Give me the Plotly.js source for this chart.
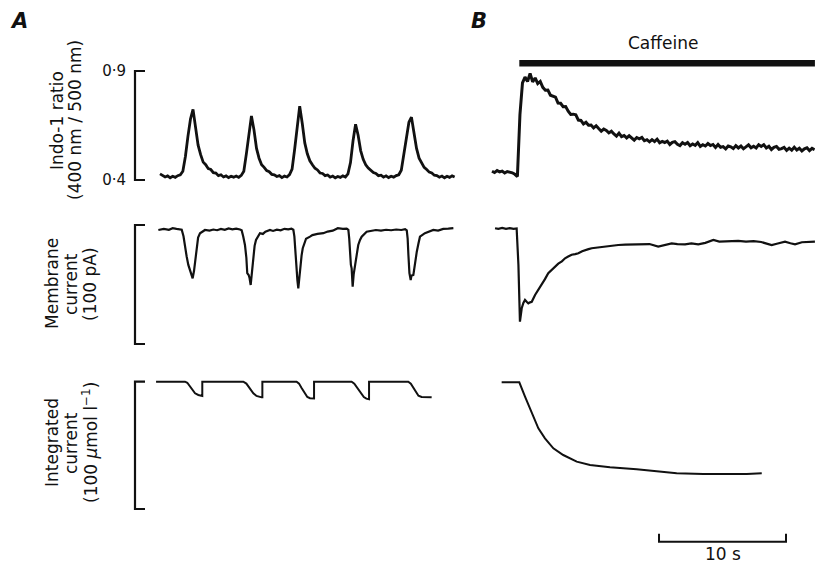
<!DOCTYPE html>
<html>
<head>
<meta charset="utf-8">
<script src="https://cdn.plot.ly/plotly-3.0.1.min.js"></script>
<style>html,body{margin:0;padding:0;background:#fff;}#chart{width:815px;height:564px;}</style>
</head>
<body>
<div id="chart"></div>
<script>
// ---------------- DATA ----------------
// Panel A, Indo-1 ratio, sampled every 0.2 s from t = 0 s
const ratioStep = 0.2;
const ratioA = [
0.428,0.420,0.414,0.419,0.410,0.417,0.412,0.420,0.424,0.440,
0.508,0.600,0.680,0.724,0.640,0.560,0.516,0.482,0.470,0.452,
0.448,0.434,0.432,0.420,0.424,0.414,0.419,0.411,0.417,0.413,
0.418,0.412,0.421,0.440,0.520,0.610,0.694,0.630,0.545,0.500,
0.470,0.458,0.443,0.438,0.426,0.424,0.416,0.420,0.411,0.418,
0.414,0.425,0.450,0.540,0.650,0.739,0.660,0.570,0.520,0.488,
0.470,0.454,0.446,0.432,0.430,0.420,0.423,0.413,0.418,0.410,
0.416,0.412,0.419,0.414,0.428,0.480,0.580,0.656,0.605,0.535,
0.495,0.470,0.455,0.446,0.434,0.430,0.420,0.422,0.413,0.419,
0.411,0.417,0.413,0.420,0.424,0.445,0.520,0.610,0.665,0.688,
0.620,0.545,0.500,0.475,0.458,0.448,0.436,0.432,0.422,0.420,
0.413,0.418,0.410,0.417,0.412,0.419,0.414
];
// Panel B, Indo-1 ratio, sampled every 0.2 s from t = 0 s
const ratioB = [
0.440,0.434,0.443,0.437,0.441,0.432,0.439,0.436,0.433,0.426,
0.416,0.700,0.845,0.872,0.852,0.889,0.850,0.868,0.842,0.852,
0.825,0.812,0.813,0.789,0.784,0.780,0.753,0.752,0.736,0.737,
0.716,0.701,0.702,0.699,0.675,0.673,0.657,0.665,0.651,0.652,
0.639,0.649,0.636,0.624,0.634,0.627,0.616,0.624,0.611,0.601,
0.615,0.599,0.604,0.593,0.603,0.594,0.583,0.595,0.589,0.595,
0.580,0.585,0.575,0.585,0.576,0.587,0.571,0.577,0.572,0.578,
0.563,0.573,0.576,0.564,0.558,0.571,0.564,0.572,0.557,0.565,
0.559,0.571,0.554,0.562,0.556,0.567,0.558,0.563,0.549,0.563,
0.550,0.553,0.543,0.556,0.552,0.544,0.558,0.547,0.556,0.543,
0.554,0.561,0.548,0.555,0.547,0.562,0.554,0.562,0.547,0.555,
0.540,0.550,0.554,0.541,0.544,0.550,0.536,0.546,0.537,0.550,
0.538,0.546,0.533,0.543,0.548,0.535,0.545,0.539
];
const ratioScale = [0.4, 0.9];           // ends of the ratio bracket
const ratioTickText = ['0·4', '0·9'];

// Panel A, membrane current (pA) vs time (s)
const currentATime = [
-0.13,0.3,0.7,1.0,1.3,1.6,
1.71,1.85,1.97,2.1,2.23,2.4,2.57,2.68,2.76,2.83,2.89,3.0,3.15,3.35,3.54,
3.9,4.2,4.5,4.8,5.1,5.4,5.7,6.0,6.3,
6.43,6.55,6.69,6.8,6.87,6.98,7.05,7.14,7.22,7.35,7.45,7.56,7.7,7.87,8.1,8.3,8.66,
8.9,9.2,9.5,9.8,10.1,10.35,
10.5,10.58,10.63,10.72,10.76,10.82,10.89,10.97,11.08,11.15,11.24,11.4,11.5,11.81,12.0,12.4,12.86,
13.2,13.6,14.0,14.4,14.7,
14.83,14.9,14.96,15.03,15.09,15.17,15.25,15.35,15.5,15.61,15.75,15.88,16.27,
16.6,17.0,17.4,17.8,18.2,18.6,19.0,19.3,
19.43,19.5,19.56,19.64,19.74,19.8,19.95,20.05,20.22,20.35,20.47,20.86,21.2,21.52,
21.9,22.3,22.7,23.1
];
const currentA = [
-0.7,0.3,-0.5,0.8,0.2,0.0,
-0.5,-6,-16,-23,-30,-36,-41.3,-35,-27,-20,-13,-7,-3.5,-2,-0.7,
-1.2,-0.3,-0.9,0.2,-0.6,0.6,-0.2,0.4,-0.3,
-1,-6,-13.3,-24,-37,-38.5,-41,-46.9,-38,-21.7,-14,-9.1,-6.3,-3.4,-4,-2.1,-0.7,
-1.5,-0.4,-1,0.3,-0.2,0.5,
-0.5,-6,-16,-30,-38.5,-43,-49.7,-40,-30,-22,-16,-10.5,-8,-6.3,-5,-4,-3.4,
-2,-1.3,0.8,0.2,0.5,
-0.5,-8,-21.7,-30,-32.9,-48.3,-38,-30,-21.7,-13.3,-9,-6.3,-2.1,
-1.5,-0.7,-1.2,-0.5,-0.9,-0.3,-0.7,0,
-1,-8,-21.7,-37,-42.7,-39,-38.5,-30,-18.9,-12,-6.3,-3.4,-2,-0.7,
-1.2,0.2,0.4,0.8
];
// Panel B, membrane current (pA) vs time (s)
const currentBTime = [
0.24,0.5,0.8,1.1,1.4,1.7,1.94,2.08,2.2,2.34,2.47,2.6,2.73,2.86,3.0,3.13,3.39,3.65,3.91,
4.17,4.43,4.7,4.96,5.22,5.5,5.75,6.0,6.27,6.55,6.8,7.1,7.32,7.6,7.85,8.2,8.5,8.9,9.4,9.94,
10.5,11.26,11.8,12.4,13.09,13.5,14.15,14.6,15.2,15.7,16.24,16.8,17.43,17.9,18.5,19.39,
20.0,20.6,21.2,22.02,22.5,23.07,23.5,23.86,24.4,25.0,25.43
];
const currentB = [
0.8,0.2,1.0,0.3,0.9,0.2,0.6,-30,-77.7,-66.5,-62,-59.5,-61,-62.3,-61.5,-61,-55.3,-51,-46.9,
-42,-37,-34,-31.5,-29,-27,-24.5,-23,-21.5,-21,-20.3,-18.5,-17.5,-16.8,-16,-15.5,-15.2,-14.7,-14,-13.3,
-13,-12.7,-13,-12.5,-14.7,-13.5,-11.9,-12.5,-12.8,-12,-12.7,-11.5,-9.1,-10.5,-10.2,-9.9,
-10.5,-10,-10.8,-13.3,-12,-10.5,-11.8,-12.7,-11,-10.5,-10.5
];
const currentScale = [-96.5, 3.5];       // ends of the 100 pA bracket

// Panel A, integrated current (µmol/l) vs time (s), with the resets
const integralATime = [
-0.31,1.97,2.15,2.36,2.55,2.76,3.02,3.28,3.33,3.33,
6.56,6.8,7.05,7.35,7.6,7.8,8.0,8.06,8.06,
10.76,10.95,11.15,11.4,11.6,11.81,12.13,12.13,
15.09,15.3,15.55,15.8,16.05,16.25,16.4,16.46,16.46,
19.55,19.75,19.95,20.15,20.35,20.6,21.0,21.39
];
const integralA = [
0,0,-0.8,-3.9,-6.8,-9.1,-10.4,-11.2,-11.2,0,
0,-1.5,-5,-9.1,-11.2,-12,-12.3,-12.3,0,
0,-1.5,-5,-9.5,-12,-13,-13.2,0,
0,-1.5,-5,-9,-12,-13.3,-13.8,-13.8,0,
0,-1.5,-5,-8.5,-11,-12,-12.2,-12.3
];
// Panel B, integrated current
const integralBTime = [0.76,2.15,2.6,3.13,3.65,4.17,4.83,5.61,6.67,7.72,9.29,11.39,12.97,14.54,16.64,18.74,20.06,21.24];
const integralB = [-0.5,-0.5,-11.8,-24.8,-36.6,-44.5,-52.3,-57.6,-62.8,-65.4,-67.2,-68.8,-70.7,-72,-72.5,-72.7,-72.5,-72];
const integralScale = [-100, 0];          // ends of the 100 µmol/l bracket

// Caffeine application (s, panel B time) and time scale bar
const caffeineOn = 2.15, caffeineOff = 25.43;
const scaleBarStart = 13.15, scaleBarLength = 10;

// ---------------- LAYOUT GEOMETRY ----------------
const W = 815, H = 564, PX_PER_S = 12.7;
const A_T0_PX = 160, B_T0_PX = 492;
const xARange = [-0.5, 23.7], xBRange = [-0.5, 25.43];
const fx = px => px / W, fy = px => 1 - px / H;
const FONT = 'DejaVu Sans';
const black = '#111';
const PAD = 8; // px of room above/below each bracket

// row axis: bracket ends at pixel rows topPx/botPx correspond to scale[1]/scale[0]
function rowAxis(topPx, botPx, scale, extra) {
  const ppu = (botPx - topPx) / (scale[1] - scale[0]);
  return Object.assign({
    domain: [fy(botPx + PAD), fy(topPx - PAD)],
    range: [scale[0] - PAD / ppu, scale[1] + PAD / ppu],
    showgrid: false, zeroline: false, fixedrange: true, showline: false, ticks: ''
  }, extra);
}
const ROW1 = [71, 180], ROW2 = [225, 344], ROW3 = [381.7, 509];

function line(x, y, xa, ya, w, extra) {
  return Object.assign({type: 'scatter', mode: 'lines', x: x, y: y, xaxis: xa, yaxis: ya,
    line: {color: black, width: w}, hoverinfo: 'skip', showlegend: false}, extra || {});
}
function bracket(scale, ya) {
  // vertical bar with short inward ticks at both ends (x axis 'x3': 0 = bar, 1 = tick end)
  return line([1, 0, 0, 1], [scale[1], scale[1], scale[0], scale[0]], 'x3', ya, 2.2);
}

const data = [
  {type: 'scatter', mode: 'lines', y: ratioA, x0: 0, dx: ratioStep, xaxis: 'x', yaxis: 'y', line: {color: black, width: 2.8}, hoverinfo: 'skip'},
  {type: 'scatter', mode: 'lines', y: ratioB, x0: 0, dx: ratioStep, xaxis: 'x2', yaxis: 'y5', line: {color: black, width: 3}, hoverinfo: 'skip'},
  line(currentATime, currentA, 'x', 'y2', 2.2),
  line(currentBTime, currentB, 'x2', 'y6', 2.2),
  line(integralATime, integralA, 'x', 'y3', 2),
  line(integralBTime, integralB, 'x2', 'y7', 2),
  bracket(ratioScale, 'y'),
  bracket(currentScale, 'y2'),
  bracket(integralScale, 'y3'),
  // caffeine bar
  line([caffeineOn, caffeineOff], [fy(63.3), fy(63.3)], 'x2', 'y4', 6.5),
  // time scale bar
  line([scaleBarStart, scaleBarStart, scaleBarStart + scaleBarLength, scaleBarStart + scaleBarLength],
       [fy(533.7), fy(541.7), fy(541.7), fy(533.7)], 'x2', 'y4', 2)
];

const layout = {
  width: W, height: H, margin: {l: 0, r: 0, t: 0, b: 0},
  paper_bgcolor: '#ffffff', plot_bgcolor: 'rgba(0,0,0,0)', showlegend: false, hovermode: false,
  font: {family: FONT, color: black},
  xaxis: {domain: [fx(A_T0_PX + xARange[0] * PX_PER_S), fx(A_T0_PX + xARange[1] * PX_PER_S)], range: xARange, visible: false, fixedrange: true, anchor: 'y3'},
  xaxis2: {domain: [fx(B_T0_PX + xBRange[0] * PX_PER_S), Math.min(1, fx(B_T0_PX + xBRange[1] * PX_PER_S))], range: xBRange, visible: false, fixedrange: true, anchor: 'y7'},
  xaxis3: {domain: [fx(130), fx(150)], range: [-0.5, 1.5], visible: false, fixedrange: true, anchor: 'y3'},
  yaxis: rowAxis(ROW1[0], ROW1[1], ratioScale, {
    anchor: 'free', position: fx(135), tickmode: 'array', tickvals: ratioScale, ticktext: ratioTickText,
    showticklabels: true, tickfont: {family: FONT, size: 15, color: black}, ticklabelstandoff: 9
  }),
  yaxis2: rowAxis(ROW2[0], ROW2[1], currentScale, {anchor: 'x3', visible: false}),
  yaxis3: rowAxis(ROW3[0], ROW3[1], integralScale, {anchor: 'x3', visible: false}),
  yaxis4: {domain: [0, 1], range: [0, 1], visible: false, fixedrange: true, anchor: 'x2'},
  yaxis5: rowAxis(ROW1[0], ROW1[1], ratioScale, {anchor: 'x2', visible: false}),
  yaxis6: rowAxis(ROW2[0], ROW2[1], currentScale, {anchor: 'x2', visible: false}),
  yaxis7: rowAxis(ROW3[0], ROW3[1], integralScale, {anchor: 'x2', visible: false}),
  annotations: []
};

function ann(text, xpx, ypx, size, opts) {
  layout.annotations.push(Object.assign({
    text: text, x: fx(xpx), y: fy(ypx), xref: 'paper', yref: 'paper',
    xanchor: 'center', yanchor: 'middle', showarrow: false,
    font: {family: FONT, size: size, color: black}
  }, opts || {}));
}
const boldItalic = {family: FONT, size: 21, color: black, weight: 'bold', style: 'italic'};
ann('A', 18.5, 20.5, 21, {font: boldItalic});
ann('B', 479, 21, 21, {font: boldItalic});
ann('Caffeine', 663, 43, 17);
ann('10 s', 722.5, 554, 17);
ann('Indo-1 ratio', 57, 121, 17, {textangle: -90});
ann('(400 nm / 500 nm)', 75, 120, 17, {textangle: -90});
ann('Membrane', 52, 284, 17, {textangle: -90});
ann('current', 71, 284, 17, {textangle: -90});
ann('(100 pA)', 90, 284, 17, {textangle: -90});
ann('Integrated', 52, 443, 17, {textangle: -90});
ann('current', 71, 443, 17, {textangle: -90});
ann('(100 <i>μ</i>mol l<sup>−1</sup>)', 90, 443, 17, {textangle: -90});

Plotly.newPlot('chart', data, layout, {staticPlot: true, displayModeBar: false});
</script>
</body>
</html>
